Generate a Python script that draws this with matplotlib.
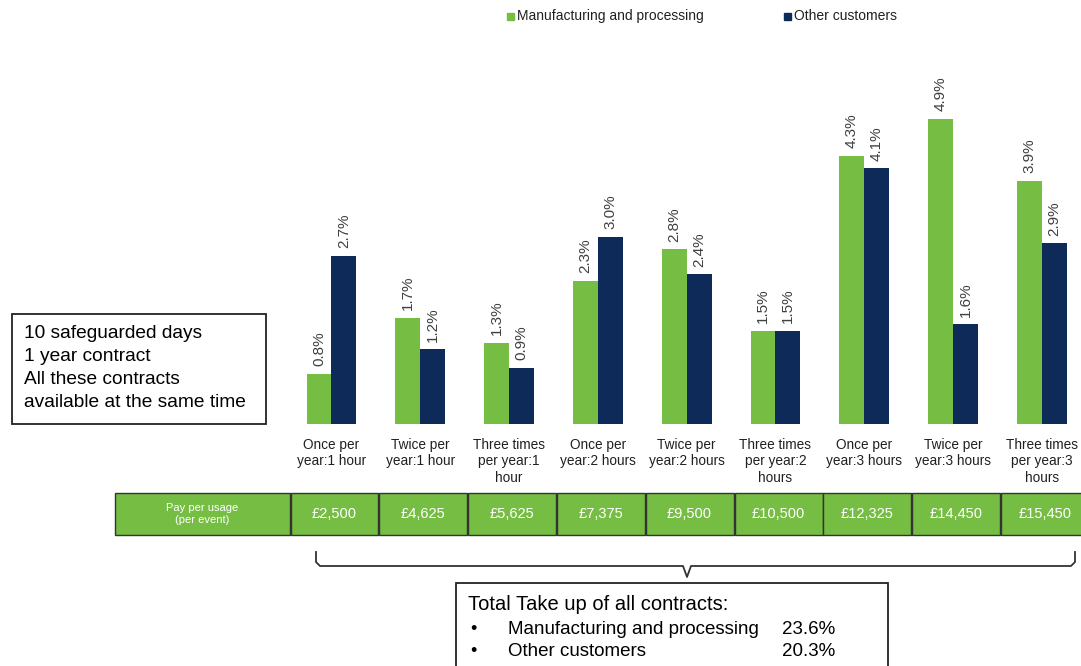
import matplotlib.pyplot as plt
from matplotlib.patches import Rectangle
from matplotlib.transforms import blended_transform_factory

categories = ["Once per\nyear:1 hour", "Twice per\nyear:1 hour", "Three times\nper year:1\nhour",
              "Once per\nyear:2 hours", "Twice per\nyear:2 hours", "Three times\nper year:2\nhours",
              "Once per\nyear:3 hours", "Twice per\nyear:3 hours", "Three times\nper year:3\nhours"]
manufacturing = [0.8, 1.7, 1.3, 2.3, 2.8, 1.5, 4.3, 4.9, 3.9]
other = [2.7, 1.2, 0.9, 3.0, 2.4, 1.5, 4.1, 1.6, 2.9]
prices = ["£2,500", "£4,625", "£5,625", "£7,375", "£9,500", "£10,500", "£12,325", "£14,450", "£15,450"]
totals = {"Manufacturing and processing": "23.6%", "Other customers": "20.3%"}

green = "#76BD43"
navy = "#0D2A59"
W, H = 1081, 666
plt.rcParams["font.family"] = ["Liberation Sans", "DejaVu Sans"]

fig = plt.figure(figsize=(W / 100, H / 100), dpi=100)
ax = fig.add_axes([287 / W, (H - 424) / H, (W - 287) / W, 374 / H])
ax.set_xlim(-0.5, 8.44)
ax.set_ylim(0, 6)
ax.axis("off")

x = list(range(len(categories)))
bw = 0.28
ax.bar([i - bw / 2 for i in x], manufacturing, bw, color=green)
ax.bar([i + bw / 2 for i in x], other, bw, color=navy)
for i in x:
    for dx, v in ((-bw / 2, manufacturing[i]), (bw / 2, other[i])):
        ax.annotate(f"{v:.1f}%", (i + dx, v), xytext=(0, 5.5), textcoords="offset points",
                    rotation=90, ha="center", va="bottom", fontsize=11, color="#404040")
    ax.text(i, -0.22, categories[i], ha="center", va="top", fontsize=9.8,
            color="#202020", linespacing=1.25)

# legend
fig.patches.append(Rectangle((507 / W, 1 - 20 / H), 7 / W, 7 / H, transform=fig.transFigure, color=green))
fig.text(517 / W, 1 - 16 / H, "Manufacturing and processing", fontsize=10, va="center", color="#202020")
fig.patches.append(Rectangle((784 / W, 1 - 20 / H), 7 / W, 7 / H, transform=fig.transFigure, color=navy))
fig.text(794 / W, 1 - 16 / H, "Other customers", fontsize=10, va="center", color="#202020")

# price table
tr = blended_transform_factory(ax.transData, fig.transFigure)
y0, y1 = 1 - 535 / H, 1 - 493 / H
fig.patches.append(Rectangle((115 / W, y0), (290 - 115) / W, y1 - y0, transform=fig.transFigure,
                             facecolor=green, edgecolor="#333333", lw=1))
fig.text(202 / W, (y0 + y1) / 2, "Pay per usage\n(per event)", ha="center", va="center",
         fontsize=8, color="white")
for i, p in enumerate(prices):
    ax.add_patch(Rectangle((i - 0.5 + 0.04, y0), 0.99, y1 - y0, transform=tr, facecolor=green,
                           edgecolor="#333333", lw=1, clip_on=False))
    ax.text(i + 0.03, (y0 + y1) / 2, p, transform=tr, ha="center", va="center", fontsize=10.5, color="white")

# brace
bx = [316, 316, 320, 683, 687, 691, 1071, 1075, 1075]
by = [552, 562, 566, 566, 577, 566, 566, 562, 552]
fig.add_artist(plt.Line2D([v / W for v in bx], [1 - v / H for v in by], transform=fig.transFigure,
                          color="#333333", lw=1.3))

# left box
fig.patches.append(Rectangle((12 / W, 1 - 424 / H), 254 / W, 110 / H, transform=fig.transFigure,
                             facecolor="white", edgecolor="#222222", lw=1.3))
left_lines = ["10 safeguarded days", "1 year contract", "All these contracts", "available at the same time"]
for k, s in enumerate(left_lines):
    fig.text(24 / W, 1 - (333 + 23.3 * k) / H, s, fontsize=13.8, va="center", color="black")

# bottom box
fig.patches.append(Rectangle((456 / W, 1 - 700 / H), 432 / W, 117 / H, transform=fig.transFigure,
                             facecolor="white", edgecolor="#222222", lw=1.3))
fig.text(468 / W, 1 - 605 / H, "Total Take up of all contracts:", fontsize=14.5, va="center")
for k, (name, val) in enumerate(totals.items()):
    yy = 1 - (629 + 23 * k) / H
    fig.text(470 / W, yy, "•", fontsize=13, va="center")
    fig.text(508 / W, yy, name, fontsize=13.5, va="center")
    fig.text(782 / W, yy, val, fontsize=13.5, va="center")

fig.savefig("out.png", dpi=100)
